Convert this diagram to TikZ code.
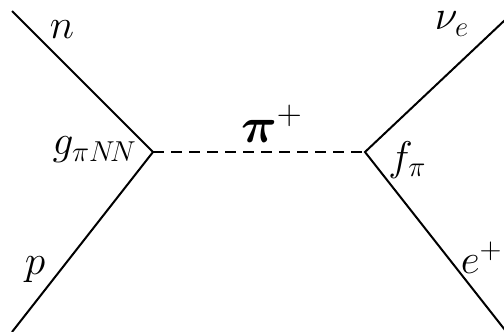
\documentclass[tikz,border=0pt]{standalone}
\usepackage{amsmath}
\usepackage{bm}
\usepackage{tikz}

\begin{document}
\begin{tikzpicture}[
    x=0.5pt, y=-0.5pt,
    fermion/.style={line width=1pt},
    pion/.style={line width=0.8pt, dash pattern=on 5.5pt off 3.5pt},
    lbl/.style={inner sep=0pt, font=\fontsize{20}{24}\selectfont},
]
\useasboundingbox (0,0) rectangle (504,332);

% Vertices and external ends
\coordinate (vL) at (153,152);
\coordinate (vR) at (365,152);
\coordinate (nEnd) at (12,11);
\coordinate (pEnd) at (12,332);
\coordinate (nuEnd) at (505,20);
\coordinate (ePEnd) at (505,330);

% Lines
\draw[fermion] (nEnd) -- (vL) -- (pEnd);
\draw[fermion] (nuEnd) -- (vR) -- (ePEnd);
\draw[pion] (vL) -- (vR);

% Labels
\node[lbl] (nLbl) at (62,30) {$n$};
\node[lbl] (pLbl) at (35,270) {$p$};
\node[lbl, anchor=east] (gLbl) at (137,150) {$g_{\pi N\!N}$};
\node[lbl, font=\fontsize{23}{27}\selectfont] (piLbl) at (272,124) {$\bm{\pi}^{+}$};
\node[lbl] (nuLbl) at (452,24) {$\nu_{e}$};
\node[lbl, anchor=west] (fLbl) at (388,160) {$f_{\pi}$};
\node[lbl, anchor=east] (eLbl) at (503,258) {$e^{+}$};
\end{tikzpicture}
\end{document}
